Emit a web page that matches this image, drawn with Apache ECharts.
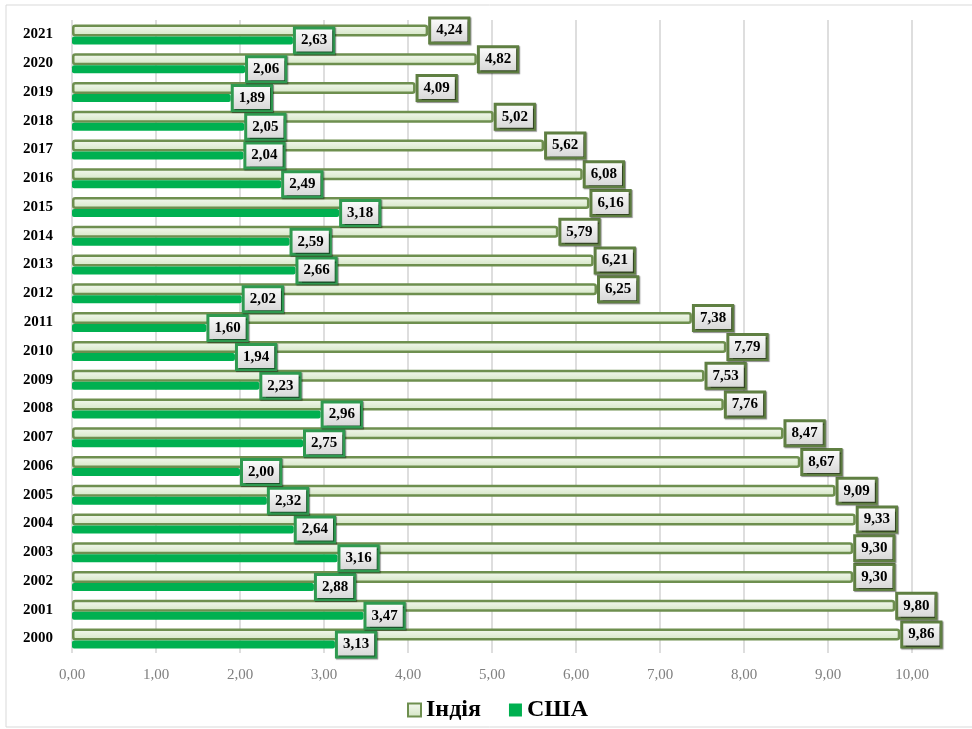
<!DOCTYPE html>
<html>
<head>
<meta charset="utf-8">
<script src="https://cdn.jsdelivr.net/npm/echarts@6/dist/echarts.min.js"></script>
<style>
  html, body { margin: 0; padding: 0; background: #fff; }
  #chart { width: 972px; height: 729px; }
</style>
</head>
<body>
<div id="chart"></div>
<script>
// роки знизу вгору
const years = ["2000", "2001", "2002", "2003", "2004", "2005", "2006", "2007", "2008", "2009", "2010",
  "2011", "2012", "2013", "2014", "2015", "2016", "2017", "2018", "2019", "2020", "2021"];
const india = [9.86, 9.80, 9.30, 9.30, 9.33, 9.09, 8.67, 8.47, 7.76, 7.53, 7.79,
  7.38, 6.25, 6.21, 5.79, 6.16, 6.08, 5.62, 5.02, 4.09, 4.82, 4.24];
const usa = [3.13, 3.47, 2.88, 3.16, 2.64, 2.32, 2.00, 2.75, 2.96, 2.23, 1.94,
  1.60, 2.02, 2.66, 2.59, 3.18, 2.49, 2.04, 2.05, 1.89, 2.06, 2.63];
const seriesNames = ["Індія", "США"];

const serif = "Liberation Serif";
const fmt = v => v.toFixed(2).replace(".", ",");

function labelStyle(border) {
  return {
    show: true,
    position: "right",
    distance: 3,
    formatter: p => fmt(p.value),
    fontFamily: serif,
    fontWeight: "bold",
    fontSize: 15,
    color: "#000",
    padding: [4, 5, 3, 5],
    borderColor: border,
    borderWidth: 3,
    backgroundColor: {
      type: "linear", x: 0, y: 0, x2: 0, y2: 1,
      colorStops: [{ offset: 0, color: "#ffffff" }, { offset: 1, color: "#d4d4d4" }]
    },
    shadowColor: "rgba(0,0,0,0.45)",
    shadowOffsetX: 1,
    shadowOffsetY: 1,
    shadowBlur: 1
  };
}

const chart = echarts.init(document.getElementById("chart"));
chart.setOption({
  animation: false,
  graphic: [{
    type: "rect",
    shape: { x: 6, y: 5, width: 980, height: 722 },
    style: { fill: "none", stroke: "#d9d9d9", lineWidth: 1 },
    silent: true
  }],
  grid: { left: 72, right: 60, top: 20, bottom: 76 },
  xAxis: {
    type: "value",
    min: 0,
    max: 10,
    interval: 1,
    axisLine: { show: false },
    axisTick: { show: false },
    splitLine: { lineStyle: { color: "#dedede", width: 2 } },
    axisLabel: {
      formatter: fmt,
      color: "#808080",
      fontFamily: serif,
      fontSize: 15,
      margin: 15
    }
  },
  yAxis: {
    type: "category",
    data: years,
    axisLine: { show: false },
    axisTick: { show: false },
    axisLabel: {
      color: "#000",
      fontFamily: serif,
      fontWeight: "bold",
      fontSize: 15,
      margin: 19
    }
  },
  legend: {
    bottom: 2,
    left: 402,
    itemWidth: 13,
    itemHeight: 13,
    itemGap: 28,
    icon: "rect",
    textStyle: { fontFamily: serif, fontWeight: "bold", fontSize: 24, color: "#000" },
    data: seriesNames
  },
  series: [
    {
      name: seriesNames[0],
      type: "bar",
      data: india,
      barWidth: 12,
      barGap: "0%",
      itemStyle: {
        color: {
          type: "linear", x: 0, y: 0, x2: 0, y2: 1,
          colorStops: [{ offset: 0, color: "#f5f9f1" }, { offset: 1, color: "#d3e5c3" }]
        },
        borderColor: "#6e8f4f",
        borderWidth: 2.5,
        borderRadius: 2
      },
      label: labelStyle("#5f7f42"),
      z: 3
    },
    {
      name: seriesNames[1],
      type: "bar",
      data: usa,
      barWidth: 8,
      itemStyle: {
        color: "#00b050",
        borderRadius: 2
      },
      label: labelStyle("#2f9a50"),
      z: 4
    }
  ]
});
</script>
</body>
</html>
